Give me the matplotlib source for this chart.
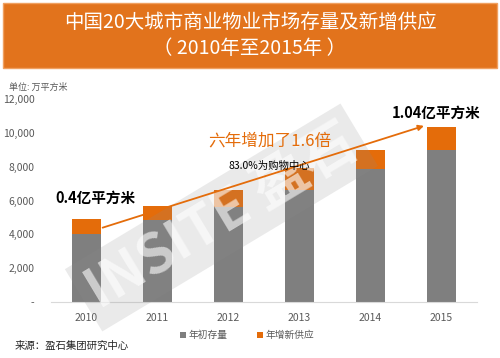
import matplotlib
matplotlib.use("Agg")
import matplotlib.pyplot as plt
import numpy as np
from matplotlib.patches import Rectangle

plt.rcParams["font.family"] = ["Noto Sans CJK SC", "DejaVu Sans"]

# data (万平方米)
years = ["2010", "2011", "2012", "2013", "2014", "2015"]
stock_start = [4000, 4880, 5600, 6650, 7880, 8980]   # 年初存量
new_supply = [900, 790, 1050, 1250, 1120, 1380]      # 年增新供应
yticks = [0, 2000, 4000, 6000, 8000, 10000, 12000]
ytick_labels = ["-", "2,000", "4,000", "6,000", "8,000", "10,000", "12,000"]

GRAY = "#7f7f7f"
ORANGE = "#e46c0a"
BANNER = "#e2731c"
TICK = "#595959"

fig = plt.figure(figsize=(5.0, 3.58), dpi=100)

# title banner
fig.patches.append(Rectangle((0.006, 0.81), 0.988, 0.182, transform=fig.transFigure,
                             facecolor=BANNER, edgecolor="#f0a060", linewidth=1))
fig.text(0.5, 0.937, "中国20大城市商业物业市场存量及新增供应", ha="center", va="center",
         color="white", fontsize=14)
fig.text(0.5, 0.865, "（ 2010年至2015年 ）", ha="center", va="center",
         color="white", fontsize=14)

ax = fig.add_axes([0.102, 0.156, 0.852, 0.5675])
x = np.arange(len(years))
ax.bar(x, stock_start, width=0.41, color=GRAY, label="年初存量", zorder=2)
ax.bar(x, new_supply, width=0.41, bottom=stock_start, color=ORANGE, label="年增新供应", zorder=2)

ax.set_xlim(-0.5, len(years) - 0.5)
ax.set_ylim(0, 12000)
ax.set_yticks(yticks)
ax.set_yticklabels(ytick_labels)
ax.set_xticks(x)
ax.set_xticklabels(years)
ax.tick_params(length=0, labelsize=7.5, colors=TICK)
ax.tick_params(axis="y", pad=12)
ax.tick_params(axis="x", pad=8)
for s in ["top", "right", "left"]:
    ax.spines[s].set_visible(False)
ax.spines["bottom"].set_color("#d9d9d9")

# watermark band
ax.text(1.9, 5000, "INSITE 盈石", rotation=31, ha="center", va="center",
        fontsize=40, fontweight="bold", color="white", alpha=0.6, zorder=3,
        bbox=dict(boxstyle="square,pad=0.15", facecolor="#8c8c8c", edgecolor="none", alpha=0.18))

# growth arrow
totals = [a + b for a, b in zip(stock_start, new_supply)]
ax.annotate("", xy=(4.79, totals[-1] + 100), xytext=(0.19, totals[0] - 550),
            arrowprops=dict(arrowstyle="-|>", color=ORANGE, lw=1.3, mutation_scale=8), zorder=4)

ax.text(0.12, 6150, "0.4亿平方米", ha="center", va="center", fontsize=10.5,
        fontweight="bold", color="black", zorder=5)
ax.text(4.93, 11200, "1.04亿平方米", ha="center", va="center", fontsize=10.5,
        fontweight="bold", color="black", zorder=5)
ax.text(2.58, 9500, "六年增加了1.6倍", ha="center", va="center", fontsize=12,
        color=ORANGE, zorder=5)
ax.text(2.57, 8050, "83.0%为购物中心", ha="center", va="center", fontsize=7.5,
        color="black", zorder=5)

fig.text(0.018, 0.757, "单位: 万平方米", fontsize=6.5, color=TICK, va="center")

leg = ax.legend(loc="upper center", bbox_to_anchor=(0.46, -0.095), ncol=2, frameon=False,
                fontsize=7, handlelength=0.6, handleheight=0.6, columnspacing=3,
                handletextpad=0.3)
for t in leg.get_texts():
    t.set_color(TICK)

fig.text(0.03, 0.035, "来源：盈石集团研究中心", fontsize=7.5, color="#262626", va="center")

fig.savefig("out.png", dpi=100)
